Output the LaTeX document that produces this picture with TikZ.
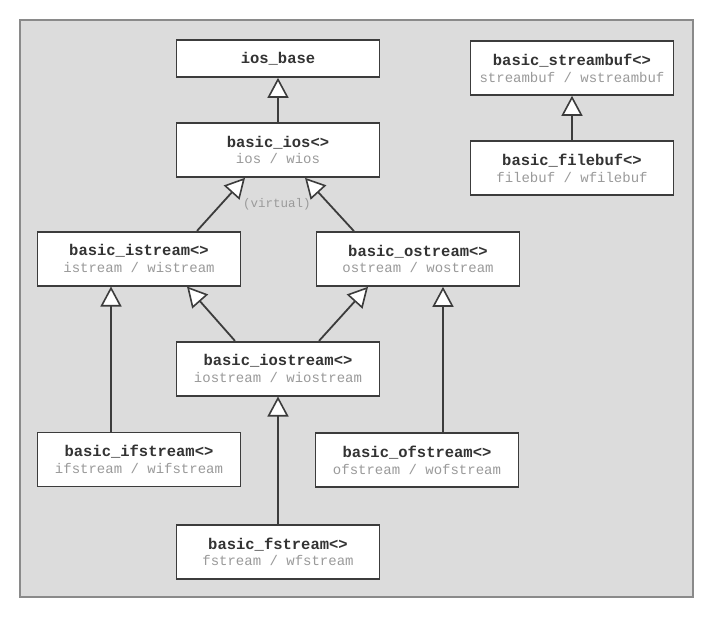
\documentclass[tikz,border=0pt]{standalone}
\usepackage{fontspec}
\setmonofont{Liberation Mono}
\usetikzlibrary{arrows.meta}
\definecolor{bgray}{HTML}{DCDCDC}
\definecolor{framec}{HTML}{8A8A8A}
\definecolor{boxc}{HTML}{3C3C3C}
\definecolor{titlec}{HTML}{333333}
\definecolor{subc}{HTML}{9A9A9A}
\newcommand{\cls}[2]{{\fontsize{15.5}{16.7}\selectfont\bfseries\color{titlec}#1}\\{\color{subc}#2}}
\tikzset{
  cbox/.style={draw=boxc, line width=1.6pt, fill=white, minimum width=203pt,
    minimum height=54pt, inner sep=0pt, align=center,
    font=\ttfamily\fontsize{14}{16.7}\selectfont},
  inh/.style={draw=boxc, line width=1.8pt,
    -{Triangle[open, fill=white, length=20pt, width=21pt, line width=1.6pt]}},
}
\begin{document}
\begin{tikzpicture}[x=1pt,y=-1pt]
\useasboundingbox (0,0) rectangle (715,621);
\draw[framec, line width=1.2pt, fill=bgray] (20,20) rectangle (693,597);

\node[cbox, minimum height=37pt] (iosbase) at (278,58.5)
  {{\fontsize{15.5}{16.7}\selectfont\bfseries\color{titlec}ios\_base}};
\node[cbox] (basicios) at (278,150) {\cls{basic\_ios<>}{ios / wios}};
\node[cbox] (sbuf) at (572,68) {\cls{basic\_streambuf<>}{streambuf / wstreambuf}};
\node[cbox] (fbuf) at (572,168) {\cls{basic\_filebuf<>}{filebuf / wfilebuf}};
\node[cbox] (istr) at (139,258.7) {\cls{basic\_istream<>}{istream / wistream}};
\node[cbox] (ostr) at (418,259) {\cls{basic\_ostream<>}{ostream / wostream}};
\node[cbox] (iostr) at (278,368.7) {\cls{basic\_iostream<>}{iostream / wiostream}};
\node[cbox] (ifstr) at (139,459.5) {\cls{basic\_ifstream<>}{ifstream / wifstream}};
\node[cbox] (ofstr) at (417,460) {\cls{basic\_ofstream<>}{ofstream / wofstream}};
\node[cbox] (fstr) at (278,551.7) {\cls{basic\_fstream<>}{fstream / wfstream}};

\node[font=\ttfamily\fontsize{12.5}{14}\selectfont, text=subc, inner sep=0pt] (virt) at (277,204) {(virtual)};

\draw[inh] (basicios.north) -- (iosbase.south);
\draw[inh] (fbuf.north) -- (sbuf.south);
\draw[inh] ([xshift=58pt]istr.north) -- ([xshift=-33pt]basicios.south);
\draw[inh] ([xshift=-64pt]ostr.north) -- ([xshift=27pt]basicios.south);
\draw[inh] ([xshift=-28pt]ifstr.north) -- ([xshift=-28pt]ifstr.north |- istr.south);
\draw[inh] ([xshift=-43pt]iostr.north) -- ([xshift=48pt]istr.south);
\draw[inh] ([xshift=41pt]iostr.north) -- ([xshift=-50pt]ostr.south);
\draw[inh] ([xshift=26pt]ofstr.north) -- ([xshift=26pt]ofstr.north |- ostr.south);
\draw[inh] (fstr.north) -- (iostr.south);
\end{tikzpicture}
\end{document}
